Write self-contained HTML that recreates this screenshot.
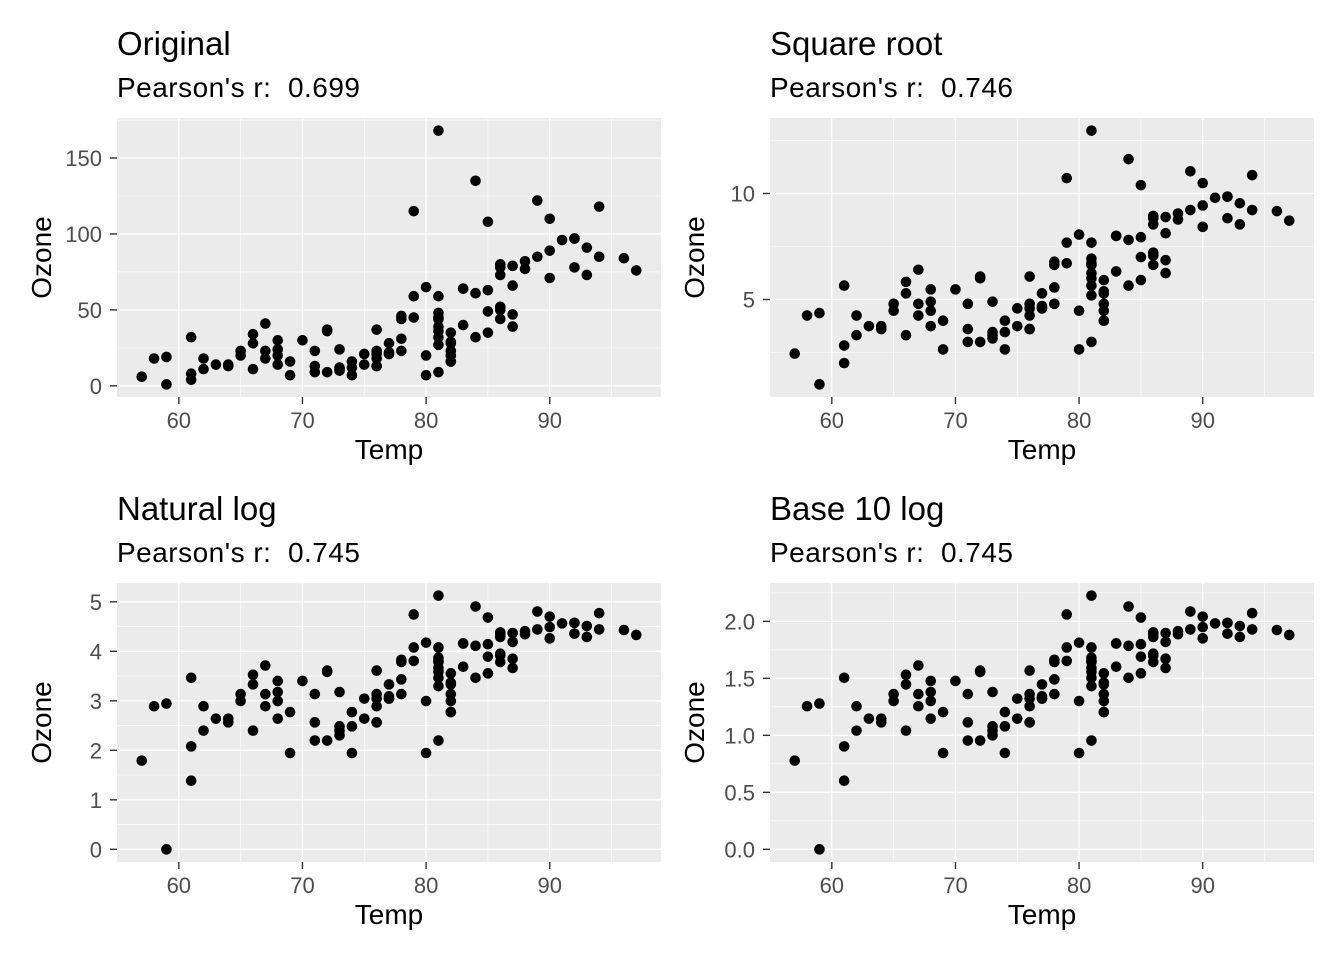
<!DOCTYPE html>
<html><head><meta charset="utf-8"><style>
html,body{margin:0;padding:0;background:#fff;width:1344px;height:960px;overflow:hidden}
svg{display:block;font-family:"Liberation Sans",Arial,sans-serif}
</style></head><body>
<svg id="c" width="1344" height="960"></svg>
<script>
const temp=[67,72,74,62,66,65,59,61,74,69,66,68,58,64,66,57,68,62,59,73,61,61,67,81,79,76,82,90,87,82,77,72,65,73,76,84,85,81,83,83,88,92,92,89,73,81,80,81,82,84,87,85,74,86,85,82,86,88,86,83,81,81,81,82,86,85,87,89,90,90,86,82,80,77,79,76,78,78,77,72,79,81,86,97,94,96,94,91,92,93,93,87,84,80,78,75,73,81,76,77,71,71,78,67,76,68,82,64,71,81,69,63,70,75,76,68];
const ozone=[41,36,12,18,28,23,19,8,7,16,11,14,18,14,34,6,30,11,1,11,4,32,23,45,115,37,29,71,39,23,21,37,20,12,13,135,49,32,64,40,77,97,97,85,10,27,7,48,35,61,79,63,16,80,108,20,52,82,50,64,59,39,9,16,78,35,66,122,89,110,44,28,65,22,59,23,31,44,21,9,45,168,73,76,118,84,85,96,78,73,91,47,32,20,23,21,24,44,21,28,9,13,46,18,13,24,16,13,23,36,7,14,30,14,18,20];
const titles=["Original","Square root","Natural log","Base 10 log"];
const rvals=["0.699","0.746","0.745","0.745"];
const xTicks=[60,70,80,90];
const yTicksList=[[0,50,100,150],[5,10],[0,1,2,3,4,5],[0,0.5,1,1.5,2]];
const yLabelsList=[["0","50","100","150"],["5","10"],["0","1","2","3","4","5"],["0.0","0.5","1.0","1.5","2.0"]];
const transforms=[v=>v,v=>Math.sqrt(v),v=>Math.log(v),v=>Math.log10(v)];
const NS="http://www.w3.org/2000/svg";
const svg=document.getElementById('c');
function mk(tag,attrs,parent){const e=document.createElementNS(NS,tag);for(const k in attrs)e.setAttribute(k,attrs[k]);(parent||svg).appendChild(e);return e;}
const panels=[{x:117,y:118},{x:770,y:118},{x:117,y:583},{x:770,y:583}];
const W=544,H=279;
panels.forEach((p,i)=>{
  const g=mk('g',{});
  
  
  const f=transforms[i];
  const ys=ozone.map(f);
  const xmin=Math.min(...temp),xmax=Math.max(...temp);
  const ymin=Math.min(...ys),ymax=Math.max(...ys);
  const xe=(xmax-xmin)*0.05,ye=(ymax-ymin)*0.05;
  const X=v=>p.x+(v-(xmin-xe))/((xmax+xe)-(xmin-xe))*W;
  const Y=v=>p.y+H-(v-(ymin-ye))/((ymax+ye)-(ymin-ye))*H;
  const bg=mk('rect',{x:p.x,y:p.y,width:W,height:H,fill:'#EBEBEB'},g);
  
  
  const yt=yTicksList[i];
  const step=yt[1]-yt[0];
  for(let k=-1;k<yt.length;k++){const v=yt[0]+step*(k+0.5);const yy=Y(v);if(yy>p.y&&yy<p.y+H)mk('line',{x1:p.x,x2:p.x+W,y1:yy,y2:yy,stroke:'#fff','stroke-width':0.6},g);}
  for(let k=-1;k<xTicks.length;k++){const v=xTicks[0]+10*(k+0.5);const xx=X(v);if(xx>p.x&&xx<p.x+W)mk('line',{x1:xx,x2:xx,y1:p.y,y2:p.y+H,stroke:'#fff','stroke-width':0.6},g);}
  yt.forEach((v,k)=>{const yy=Y(v);
    mk('line',{x1:p.x,x2:p.x+W,y1:yy,y2:yy,stroke:'#fff','stroke-width':1.3},g);
    mk('line',{x1:p.x-7,x2:p.x,y1:yy,y2:yy,stroke:'#333','stroke-width':1.4},g);
    const t=mk('text',{x:p.x-15,y:yy+8,'text-anchor':'end','font-size':22,fill:'#4D4D4D'},g);t.textContent=yLabelsList[i][k];
    });
  xTicks.forEach(v=>{const xx=X(v);
    mk('line',{x1:xx,x2:xx,y1:p.y,y2:p.y+H,stroke:'#fff','stroke-width':1.3},g);
    mk('line',{x1:xx,x2:xx,y1:p.y+H,y2:p.y+H+7,stroke:'#333','stroke-width':1.4},g);
    const t=mk('text',{x:xx,y:p.y+H+31,'text-anchor':'middle','font-size':22,fill:'#4D4D4D'},g);t.textContent=v;
    });
  temp.forEach((tv,k)=>{const c=mk('circle',{cx:X(tv),cy:Y(ys[k]),r:5.3,fill:'#000'},g);
    });
  const tt=mk('text',{x:p.x,y:p.y-63,'font-size':33,fill:'#000'},g);tt.textContent=titles[i];
  
  const st=mk('text',{x:p.x,y:p.y-21,'font-size':28,fill:'#000',textLength:243,lengthAdjust:'spacing'},g);st.textContent="Pearson's r:  "+rvals[i];st.setAttribute('xml:space','preserve');st.style.whiteSpace='pre';
  
  const xt=mk('text',{x:p.x+W/2,y:p.y+H+62,'text-anchor':'middle','font-size':28,fill:'#000'},g);xt.textContent='Temp';
  
  const cy=p.y+H/2,cx=p.x-66;
  const ya=mk('text',{x:cx,y:cy,'text-anchor':'middle','font-size':28,fill:'#000',transform:`rotate(-90 ${cx} ${cy})`},g);ya.textContent='Ozone';
  
});
</script>
</body></html>
